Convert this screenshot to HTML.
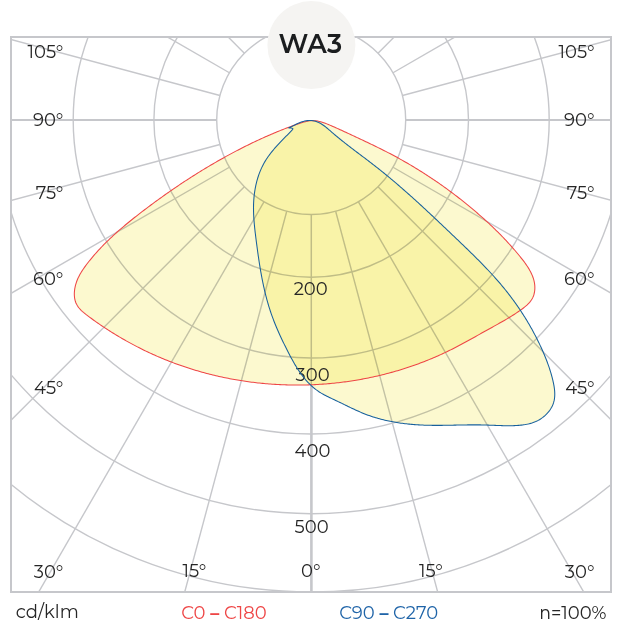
<!DOCTYPE html>
<html><head><meta charset="utf-8"><style>
html,body{margin:0;padding:0;background:#fff;}
svg{display:block;}
</style></head><body>
<svg width="624" height="623" viewBox="0 0 624 623">
<defs><clipPath id="fr"><rect x="11" y="37" width="600" height="555"/></clipPath></defs>
<rect x="0" y="0" width="624" height="623" fill="#fff"/>
<g clip-path="url(#fr)" fill="none" stroke="#c6c7cb" stroke-width="1.4">
<circle cx="311.2" cy="120.0" r="94.5"/>
<circle cx="311.2" cy="120.0" r="157.3"/>
<circle cx="311.2" cy="120.0" r="238.0"/>
<circle cx="311.2" cy="120.0" r="314.0"/>
<circle cx="311.2" cy="120.0" r="393.7"/>
<circle cx="311.2" cy="120.0" r="472.0"/>
<line x1="311.30" y1="214.50" x2="311.30" y2="385.5" stroke-width="1.5"/>
<line x1="311.40" y1="385.5" x2="311.40" y2="1020.00" stroke-width="2.6"/>
<line x1="286.74" y1="211.28" x2="78.26" y2="989.33"/>
<line x1="335.66" y1="211.28" x2="544.14" y2="989.33"/>
<line x1="263.95" y1="201.84" x2="-138.80" y2="899.42"/>
<line x1="358.45" y1="201.84" x2="761.20" y2="899.42"/>
<line x1="244.38" y1="186.82" x2="-325.20" y2="756.40"/>
<line x1="378.02" y1="186.82" x2="947.60" y2="756.40"/>
<line x1="229.36" y1="167.25" x2="-468.22" y2="570.00"/>
<line x1="393.04" y1="167.25" x2="1090.62" y2="570.00"/>
<line x1="219.92" y1="144.46" x2="-558.13" y2="352.94"/>
<line x1="402.48" y1="144.46" x2="1180.53" y2="352.94"/>
<line x1="216.70" y1="120.00" x2="-588.80" y2="120.00" stroke-width="2"/>
<line x1="405.70" y1="120.00" x2="1211.20" y2="120.00" stroke-width="2"/>
<line x1="219.92" y1="95.54" x2="-558.13" y2="-112.94"/>
<line x1="402.48" y1="95.54" x2="1180.53" y2="-112.94"/>
<line x1="229.36" y1="72.75" x2="-468.22" y2="-330.00"/>
<line x1="393.04" y1="72.75" x2="1090.62" y2="-330.00"/>
<line x1="244.38" y1="53.18" x2="-325.20" y2="-516.40"/>
<line x1="378.02" y1="53.18" x2="947.60" y2="-516.40"/>
<line x1="263.95" y1="38.16" x2="-138.80" y2="-659.42"/>
<line x1="358.45" y1="38.16" x2="761.20" y2="-659.42"/>
<line x1="286.74" y1="28.72" x2="78.26" y2="-749.33"/>
<line x1="335.66" y1="28.72" x2="544.14" y2="-749.33"/>
<line x1="311.20" y1="25.50" x2="311.20" y2="-780.00"/>
</g>
<rect x="11" y="37" width="600" height="555" fill="none" stroke="#c6c7cb" stroke-width="2"/>
<circle cx="311.4" cy="45.1" r="44" fill="#f5f4f2"/>
<text x="278.4" y="52.8" font-family="Montserrat, 'Liberation Sans', sans-serif" font-weight="600" font-size="27" fill="#1b1d1f" textLength="63.9" lengthAdjust="spacingAndGlyphs">WA3</text>
<g fill="#fcf9cf" stroke="none">
<path d="M311.40,120.65 L312.94,120.62 L314.48,120.69 L316.02,120.86 L317.57,121.10 L319.11,121.43 L320.66,121.81 L322.21,122.26 L323.75,122.76 L325.29,123.30 L326.82,123.88 L328.34,124.49 L329.85,125.12 L331.36,125.76 L332.85,126.41 L334.32,127.06 L335.79,127.71 L337.25,128.36 L338.70,129.02 L340.14,129.68 L341.57,130.34 L343.00,131.00 L344.43,131.66 L345.85,132.32 L347.28,132.98 L348.70,133.65 L350.12,134.31 L351.55,134.97 L352.97,135.64 L354.40,136.30 L355.82,136.97 L357.25,137.64 L358.68,138.30 L360.10,138.97 L361.53,139.64 L362.96,140.31 L364.38,140.99 L365.81,141.66 L367.24,142.34 L368.66,143.02 L370.09,143.70 L371.52,144.39 L372.94,145.07 L374.36,145.76 L375.79,146.46 L377.21,147.15 L378.63,147.85 L380.05,148.55 L381.46,149.26 L382.88,149.97 L384.30,150.69 L385.71,151.40 L387.12,152.13 L388.53,152.85 L389.94,153.58 L391.34,154.32 L392.74,155.06 L394.14,155.81 L395.54,156.56 L396.94,157.31 L398.33,158.08 L399.72,158.84 L401.10,159.61 L402.49,160.39 L403.87,161.17 L405.25,161.96 L406.63,162.75 L408.00,163.55 L409.37,164.35 L410.74,165.16 L412.11,165.97 L413.47,166.78 L414.83,167.60 L416.19,168.43 L417.54,169.26 L418.89,170.10 L420.24,170.94 L421.59,171.78 L422.93,172.63 L424.27,173.49 L425.60,174.34 L426.94,175.21 L428.27,176.08 L429.59,176.95 L430.92,177.83 L432.24,178.71 L433.56,179.59 L434.87,180.49 L436.18,181.38 L437.49,182.28 L438.80,183.18 L440.10,184.09 L441.40,185.00 L442.69,185.92 L443.98,186.84 L445.27,187.77 L446.55,188.70 L447.84,189.63 L449.11,190.57 L450.39,191.51 L451.66,192.46 L452.93,193.41 L454.19,194.36 L455.45,195.32 L456.71,196.29 L457.96,197.25 L459.21,198.22 L460.45,199.20 L461.70,200.18 L462.93,201.16 L464.17,202.15 L465.40,203.14 L466.63,204.13 L467.85,205.13 L469.07,206.13 L470.28,207.14 L471.50,208.15 L472.70,209.16 L473.91,210.17 L475.11,211.20 L476.30,212.22 L477.49,213.25 L478.68,214.28 L479.87,215.31 L481.05,216.35 L482.22,217.39 L483.39,218.44 L484.56,219.49 L485.72,220.55 L486.88,221.60 L488.04,222.67 L489.19,223.74 L490.34,224.81 L491.48,225.89 L492.62,226.98 L493.76,228.07 L494.89,229.16 L496.02,230.26 L497.14,231.37 L498.26,232.48 L499.37,233.60 L500.49,234.73 L501.59,235.86 L502.70,237.00 L503.80,238.15 L504.89,239.30 L505.99,240.46 L507.07,241.63 L508.16,242.80 L509.24,243.99 L510.32,245.18 L511.39,246.38 L512.46,247.58 L513.52,248.80 L514.58,250.02 L515.64,251.25 L516.69,252.50 L517.74,253.75 L518.79,255.00 L519.83,256.27 L520.86,257.55 L521.89,258.84 L522.90,260.13 L523.89,261.44 L524.87,262.76 L525.81,264.08 L526.74,265.42 L527.63,266.77 L528.48,268.13 L529.30,269.50 L530.07,270.88 L530.80,272.27 L531.49,273.68 L532.12,275.09 L532.69,276.52 L533.20,277.96 L533.66,279.42 L534.04,280.88 L534.36,282.36 L534.60,283.85 L534.77,285.35 L534.85,286.87 L534.86,288.40 L534.77,289.94 L534.59,291.47 L534.32,293.00 L533.95,294.50 L533.47,295.96 L532.88,297.38 L532.17,298.75 L531.36,300.07 L530.44,301.33 L529.44,302.54 L528.36,303.70 L527.21,304.83 L526.00,305.91 L524.75,306.96 L523.46,307.97 L522.15,308.96 L520.83,309.92 L519.50,310.87 L518.17,311.79 L516.84,312.69 L515.51,313.58 L514.17,314.45 L512.83,315.30 L511.49,316.14 L510.15,316.97 L508.80,317.79 L507.45,318.60 L506.09,319.41 L504.73,320.20 L503.36,320.99 L501.99,321.78 L500.61,322.56 L499.24,323.33 L497.86,324.10 L496.48,324.87 L495.09,325.64 L493.71,326.41 L492.33,327.17 L490.94,327.94 L489.56,328.70 L488.17,329.47 L486.79,330.24 L485.41,331.01 L484.02,331.78 L482.64,332.56 L481.26,333.33 L479.88,334.11 L478.50,334.88 L477.12,335.65 L475.74,336.43 L474.36,337.20 L472.98,337.97 L471.60,338.74 L470.21,339.51 L468.83,340.27 L467.44,341.04 L466.05,341.80 L464.67,342.55 L463.27,343.31 L461.88,344.06 L460.49,344.80 L459.09,345.54 L457.69,346.28 L456.29,347.01 L454.88,347.74 L453.48,348.45 L452.07,349.17 L450.65,349.87 L449.24,350.58 L447.81,351.27 L446.39,351.95 L444.96,352.63 L443.53,353.31 L442.10,353.97 L440.66,354.63 L439.22,355.28 L437.77,355.92 L436.32,356.56 L434.87,357.19 L433.42,357.81 L431.96,358.43 L430.50,359.03 L429.04,359.64 L427.57,360.23 L426.10,360.82 L424.63,361.40 L423.15,361.97 L421.67,362.54 L420.19,363.10 L418.71,363.65 L417.22,364.19 L415.73,364.73 L414.24,365.26 L412.75,365.79 L411.25,366.30 L409.75,366.81 L408.25,367.32 L406.74,367.81 L405.24,368.30 L403.73,368.78 L402.21,369.26 L400.70,369.72 L399.18,370.18 L397.66,370.64 L396.14,371.08 L394.62,371.52 L393.09,371.96 L391.57,372.38 L390.04,372.80 L388.50,373.21 L386.97,373.61 L385.43,374.01 L383.90,374.40 L382.36,374.78 L380.82,375.16 L379.27,375.53 L377.73,375.89 L376.18,376.25 L374.63,376.59 L373.08,376.94 L371.53,377.27 L369.98,377.60 L368.42,377.92 L366.87,378.23 L365.31,378.53 L363.75,378.83 L362.19,379.13 L360.63,379.41 L359.06,379.69 L357.50,379.96 L355.93,380.22 L354.37,380.48 L352.80,380.73 L351.23,380.97 L349.66,381.21 L348.09,381.44 L346.51,381.66 L344.94,381.87 L343.37,382.08 L341.79,382.28 L340.21,382.47 L338.64,382.66 L337.06,382.84 L335.48,383.01 L333.90,383.18 L332.32,383.34 L330.74,383.49 L329.16,383.63 L327.58,383.77 L326.00,383.90 L324.41,384.02 L322.83,384.14 L321.25,384.25 L319.66,384.35 L318.08,384.45 L316.49,384.53 L314.91,384.62 L313.32,384.69 L311.74,384.76 L310.15,384.82 L308.57,384.87 L306.98,384.92 L305.39,384.96 L303.81,384.99 L302.22,385.02 L300.64,385.03 L299.05,385.05 L297.46,385.05 L295.88,385.05 L294.29,385.04 L292.71,385.02 L291.12,385.00 L289.54,384.97 L287.95,384.93 L286.37,384.89 L284.78,384.84 L283.20,384.78 L281.62,384.71 L280.03,384.64 L278.45,384.56 L276.87,384.47 L275.29,384.38 L273.71,384.28 L272.12,384.17 L270.54,384.06 L268.96,383.94 L267.39,383.81 L265.81,383.68 L264.23,383.53 L262.65,383.38 L261.08,383.23 L259.50,383.07 L257.93,382.90 L256.36,382.72 L254.78,382.54 L253.21,382.34 L251.64,382.15 L250.07,381.94 L248.50,381.73 L246.93,381.51 L245.37,381.29 L243.80,381.05 L242.24,380.81 L240.68,380.57 L239.11,380.32 L237.55,380.06 L235.99,379.79 L234.44,379.51 L232.88,379.23 L231.32,378.94 L229.77,378.65 L228.22,378.35 L226.67,378.04 L225.12,377.72 L223.57,377.40 L222.02,377.07 L220.48,376.73 L218.93,376.39 L217.39,376.04 L215.85,375.68 L214.31,375.32 L212.78,374.95 L211.24,374.57 L209.71,374.19 L208.18,373.79 L206.65,373.39 L205.12,372.99 L203.60,372.58 L202.07,372.16 L200.55,371.73 L199.03,371.30 L197.51,370.86 L196.00,370.41 L194.48,369.95 L192.97,369.49 L191.46,369.03 L189.96,368.55 L188.45,368.07 L186.95,367.58 L185.45,367.08 L183.95,366.58 L182.46,366.07 L180.96,365.56 L179.47,365.03 L177.98,364.50 L176.50,363.96 L175.01,363.42 L173.53,362.87 L172.05,362.31 L170.58,361.75 L169.11,361.18 L167.64,360.60 L166.17,360.01 L164.70,359.42 L163.24,358.82 L161.78,358.21 L160.32,357.60 L158.87,356.98 L157.42,356.36 L155.97,355.72 L154.52,355.08 L153.08,354.43 L151.64,353.78 L150.20,353.12 L148.76,352.45 L147.33,351.78 L145.90,351.10 L144.47,350.41 L143.05,349.71 L141.63,349.01 L140.21,348.30 L138.79,347.59 L137.38,346.87 L135.97,346.14 L134.56,345.40 L133.16,344.66 L131.76,343.91 L130.36,343.15 L128.96,342.39 L127.57,341.62 L126.18,340.85 L124.79,340.06 L123.41,339.27 L122.03,338.48 L120.65,337.67 L119.27,336.86 L117.90,336.05 L116.53,335.22 L115.17,334.39 L113.80,333.56 L112.44,332.71 L111.09,331.86 L109.73,331.00 L108.38,330.14 L107.03,329.27 L105.69,328.39 L104.35,327.51 L103.01,326.62 L101.67,325.72 L100.34,324.82 L99.01,323.91 L97.69,322.99 L96.37,322.07 L95.05,321.13 L93.73,320.20 L92.42,319.25 L91.11,318.30 L89.80,317.35 L88.50,316.38 L87.20,315.41 L85.92,314.43 L84.66,313.42 L83.44,312.40 L82.26,311.35 L81.13,310.28 L80.06,309.16 L79.06,308.01 L78.14,306.82 L77.31,305.58 L76.57,304.29 L75.95,302.94 L75.43,301.54 L75.01,300.09 L74.70,298.59 L74.48,297.06 L74.36,295.51 L74.32,293.93 L74.37,292.33 L74.51,290.73 L74.71,289.13 L74.99,287.53 L75.34,285.94 L75.75,284.36 L76.23,282.82 L76.76,281.30 L77.34,279.81 L77.97,278.34 L78.65,276.90 L79.37,275.48 L80.14,274.09 L80.94,272.71 L81.77,271.35 L82.64,270.01 L83.53,268.69 L84.44,267.39 L85.38,266.09 L86.33,264.81 L87.30,263.54 L88.27,262.29 L89.26,261.04 L90.26,259.80 L91.27,258.57 L92.28,257.35 L93.31,256.13 L94.34,254.93 L95.38,253.74 L96.43,252.55 L97.49,251.37 L98.56,250.20 L99.64,249.04 L100.72,247.89 L101.81,246.74 L102.91,245.61 L104.02,244.48 L105.13,243.36 L106.25,242.24 L107.38,241.13 L108.52,240.03 L109.66,238.94 L110.81,237.85 L111.96,236.77 L113.12,235.69 L114.29,234.63 L115.46,233.56 L116.64,232.51 L117.82,231.46 L119.01,230.41 L120.21,229.37 L121.41,228.34 L122.61,227.31 L123.82,226.29 L125.03,225.27 L126.25,224.26 L127.47,223.25 L128.70,222.24 L129.92,221.24 L131.16,220.25 L132.39,219.26 L133.63,218.27 L134.88,217.28 L136.12,216.30 L137.37,215.33 L138.62,214.35 L139.88,213.38 L141.13,212.42 L142.39,211.45 L143.65,210.49 L144.92,209.53 L146.18,208.57 L147.45,207.62 L148.72,206.67 L149.99,205.72 L151.26,204.77 L152.53,203.83 L153.81,202.89 L155.08,201.95 L156.36,201.02 L157.64,200.09 L158.93,199.16 L160.21,198.23 L161.50,197.31 L162.79,196.39 L164.08,195.47 L165.37,194.55 L166.67,193.64 L167.96,192.73 L169.26,191.82 L170.56,190.92 L171.87,190.02 L173.17,189.12 L174.48,188.23 L175.78,187.34 L177.10,186.45 L178.41,185.56 L179.72,184.68 L181.04,183.80 L182.36,182.93 L183.68,182.05 L185.00,181.18 L186.32,180.32 L187.65,179.45 L188.98,178.59 L190.31,177.74 L191.64,176.88 L192.98,176.03 L194.32,175.19 L195.65,174.34 L197.00,173.50 L198.34,172.66 L199.68,171.83 L201.03,171.00 L202.38,170.17 L203.73,169.35 L205.09,168.53 L206.44,167.71 L207.80,166.90 L209.16,166.09 L210.52,165.28 L211.89,164.48 L213.26,163.68 L214.63,162.89 L216.00,162.10 L217.37,161.31 L218.75,160.52 L220.12,159.74 L221.50,158.97 L222.89,158.19 L224.27,157.42 L225.66,156.66 L227.05,155.89 L228.44,155.14 L229.83,154.38 L231.23,153.63 L232.63,152.88 L234.03,152.14 L235.43,151.40 L236.83,150.66 L238.24,149.93 L239.65,149.21 L241.06,148.48 L242.48,147.76 L243.89,147.05 L245.31,146.33 L246.74,145.63 L248.16,144.92 L249.59,144.22 L251.01,143.53 L252.44,142.84 L253.88,142.15 L255.31,141.47 L256.75,140.79 L258.19,140.11 L259.63,139.44 L261.08,138.78 L262.52,138.12 L263.97,137.47 L265.42,136.82 L266.88,136.17 L268.33,135.53 L269.79,134.90 L271.25,134.27 L272.71,133.65 L274.17,133.03 L275.64,132.42 L277.11,131.82 L278.58,131.22 L280.05,130.62 L281.52,130.04 L282.99,129.46 L284.47,128.88 L285.95,128.32 L287.43,127.75 L288.91,127.20 L290.40,126.65 L291.88,126.11 L293.37,125.58 L294.86,125.05 L296.35,124.53 L297.84,124.02 L299.34,123.52 L300.83,123.02 L302.33,122.54 L303.83,122.08 L305.34,121.66 L306.85,121.29 L308.36,120.99 L309.88,120.77Z" style="mix-blend-mode:multiply"/>
<path d="M311.67,120.51 L313.00,120.67 L314.30,120.91 L315.57,121.24 L316.80,121.65 L318.01,122.14 L319.19,122.69 L320.35,123.31 L321.48,123.99 L322.60,124.71 L323.70,125.48 L324.79,126.29 L325.87,127.14 L326.93,128.01 L327.99,128.89 L329.04,129.80 L330.09,130.71 L331.14,131.63 L332.19,132.54 L333.25,133.45 L334.30,134.34 L335.36,135.24 L336.42,136.13 L337.49,137.01 L338.56,137.89 L339.63,138.76 L340.70,139.62 L341.77,140.49 L342.85,141.35 L343.92,142.20 L345.00,143.05 L346.08,143.90 L347.16,144.74 L348.25,145.58 L349.33,146.42 L350.41,147.25 L351.50,148.08 L352.59,148.91 L353.67,149.74 L354.76,150.56 L355.85,151.39 L356.93,152.21 L358.02,153.03 L359.11,153.85 L360.20,154.67 L361.29,155.49 L362.37,156.31 L363.46,157.13 L364.55,157.95 L365.63,158.77 L366.72,159.59 L367.80,160.41 L368.88,161.24 L369.96,162.06 L371.04,162.89 L372.12,163.72 L373.20,164.55 L374.27,165.38 L375.34,166.22 L376.41,167.06 L377.48,167.90 L378.55,168.74 L379.61,169.59 L380.68,170.44 L381.74,171.29 L382.80,172.14 L383.86,173.00 L384.91,173.86 L385.97,174.72 L387.02,175.59 L388.07,176.45 L389.12,177.32 L390.16,178.20 L391.21,179.07 L392.25,179.95 L393.30,180.83 L394.34,181.71 L395.38,182.59 L396.41,183.47 L397.45,184.36 L398.48,185.25 L399.52,186.14 L400.55,187.03 L401.58,187.93 L402.61,188.83 L403.64,189.73 L404.66,190.63 L405.69,191.53 L406.71,192.43 L407.73,193.34 L408.75,194.25 L409.77,195.16 L410.79,196.07 L411.81,196.98 L412.83,197.89 L413.84,198.81 L414.85,199.73 L415.87,200.64 L416.88,201.56 L417.89,202.48 L418.90,203.41 L419.91,204.33 L420.92,205.25 L421.92,206.18 L422.93,207.11 L423.94,208.04 L424.94,208.96 L425.94,209.89 L426.95,210.83 L427.95,211.76 L428.95,212.69 L429.95,213.63 L430.95,214.56 L431.95,215.50 L432.95,216.43 L433.94,217.37 L434.94,218.31 L435.94,219.25 L436.93,220.18 L437.93,221.12 L438.92,222.06 L439.92,223.01 L440.91,223.95 L441.90,224.89 L442.90,225.83 L443.89,226.77 L444.88,227.72 L445.87,228.66 L446.86,229.60 L447.85,230.54 L448.84,231.49 L449.83,232.43 L450.82,233.38 L451.81,234.32 L452.80,235.26 L453.79,236.21 L454.78,237.15 L455.77,238.10 L456.76,239.04 L457.75,239.98 L458.74,240.93 L459.72,241.87 L460.71,242.82 L461.70,243.76 L462.68,244.71 L463.67,245.65 L464.65,246.60 L465.64,247.55 L466.62,248.50 L467.60,249.45 L468.58,250.40 L469.56,251.35 L470.53,252.30 L471.51,253.26 L472.48,254.21 L473.45,255.17 L474.42,256.13 L475.39,257.09 L476.36,258.05 L477.32,259.01 L478.28,259.98 L479.24,260.95 L480.20,261.92 L481.15,262.89 L482.11,263.86 L483.06,264.84 L484.00,265.82 L484.95,266.80 L485.89,267.78 L486.83,268.77 L487.76,269.76 L488.70,270.75 L489.63,271.75 L490.55,272.75 L491.48,273.75 L492.39,274.75 L493.31,275.76 L494.22,276.77 L495.13,277.79 L496.03,278.81 L496.94,279.83 L497.83,280.85 L498.72,281.88 L499.61,282.92 L500.50,283.96 L501.38,285.00 L502.25,286.04 L503.12,287.09 L503.99,288.15 L504.85,289.21 L505.71,290.27 L506.56,291.34 L507.41,292.41 L508.25,293.49 L509.09,294.57 L509.92,295.66 L510.74,296.75 L511.57,297.84 L512.38,298.94 L513.19,300.05 L514.00,301.15 L514.80,302.27 L515.60,303.38 L516.39,304.50 L517.17,305.62 L517.95,306.75 L518.73,307.88 L519.50,309.02 L520.26,310.16 L521.02,311.30 L521.77,312.45 L522.51,313.60 L523.25,314.75 L523.99,315.91 L524.72,317.07 L525.44,318.23 L526.16,319.40 L526.87,320.57 L527.57,321.75 L528.27,322.92 L528.96,324.10 L529.65,325.29 L530.33,326.48 L531.01,327.67 L531.68,328.86 L532.34,330.05 L532.99,331.25 L533.64,332.46 L534.29,333.66 L534.92,334.87 L535.55,336.08 L536.18,337.29 L536.79,338.51 L537.40,339.72 L538.01,340.94 L538.61,342.17 L539.20,343.39 L539.78,344.62 L540.36,345.85 L540.93,347.08 L541.49,348.32 L542.05,349.56 L542.60,350.79 L543.14,352.04 L543.67,353.28 L544.20,354.53 L544.72,355.77 L545.24,357.02 L545.74,358.28 L546.24,359.53 L546.73,360.79 L547.21,362.06 L547.68,363.33 L548.14,364.60 L548.60,365.88 L549.04,367.16 L549.47,368.45 L549.89,369.75 L550.31,371.05 L550.71,372.37 L551.10,373.69 L551.47,375.01 L551.84,376.35 L552.19,377.69 L552.54,379.05 L552.87,380.41 L553.18,381.78 L553.48,383.16 L553.75,384.55 L554.00,385.94 L554.22,387.33 L554.41,388.72 L554.57,390.11 L554.68,391.49 L554.75,392.87 L554.77,394.24 L554.74,395.61 L554.66,396.96 L554.52,398.30 L554.32,399.62 L554.05,400.93 L553.71,402.21 L553.31,403.48 L552.83,404.73 L552.29,405.95 L551.69,407.15 L551.03,408.32 L550.31,409.46 L549.54,410.57 L548.71,411.65 L547.84,412.70 L546.92,413.71 L545.95,414.68 L544.95,415.62 L543.90,416.52 L542.82,417.37 L541.71,418.19 L540.57,418.95 L539.40,419.68 L538.20,420.35 L536.98,420.97 L535.74,421.55 L534.48,422.07 L533.20,422.55 L531.91,422.98 L530.60,423.38 L529.28,423.73 L527.95,424.04 L526.61,424.32 L525.25,424.57 L523.89,424.78 L522.53,424.97 L521.16,425.13 L519.78,425.27 L518.41,425.38 L517.03,425.48 L515.65,425.56 L514.27,425.62 L512.90,425.67 L511.53,425.70 L510.15,425.72 L508.78,425.73 L507.41,425.73 L506.04,425.72 L504.68,425.70 L503.31,425.67 L501.94,425.64 L500.58,425.60 L499.21,425.55 L497.85,425.50 L496.49,425.45 L495.12,425.39 L493.76,425.34 L492.40,425.28 L491.04,425.22 L489.68,425.17 L488.31,425.11 L486.95,425.06 L485.59,425.02 L484.23,424.98 L482.87,424.94 L481.51,424.91 L480.15,424.89 L478.79,424.87 L477.43,424.86 L476.06,424.85 L474.70,424.85 L473.34,424.85 L471.98,424.86 L470.62,424.87 L469.26,424.88 L467.89,424.89 L466.53,424.91 L465.17,424.93 L463.81,424.95 L462.45,424.98 L461.08,425.00 L459.72,425.03 L458.36,425.06 L456.99,425.09 L455.63,425.12 L454.27,425.14 L452.90,425.17 L451.54,425.20 L450.17,425.23 L448.81,425.25 L447.44,425.28 L446.08,425.30 L444.71,425.32 L443.35,425.34 L441.98,425.35 L440.62,425.36 L439.25,425.37 L437.88,425.37 L436.52,425.38 L435.15,425.37 L433.78,425.36 L432.41,425.35 L431.05,425.33 L429.68,425.31 L428.31,425.28 L426.94,425.24 L425.57,425.20 L424.20,425.15 L422.83,425.10 L421.46,425.04 L420.09,424.97 L418.72,424.89 L417.35,424.81 L415.98,424.71 L414.61,424.61 L413.24,424.51 L411.87,424.39 L410.51,424.27 L409.14,424.14 L407.78,424.00 L406.41,423.85 L405.05,423.69 L403.69,423.52 L402.33,423.35 L400.97,423.16 L399.61,422.97 L398.26,422.76 L396.91,422.55 L395.56,422.33 L394.21,422.10 L392.87,421.85 L391.53,421.60 L390.19,421.34 L388.85,421.06 L387.52,420.78 L386.19,420.48 L384.86,420.18 L383.53,419.86 L382.21,419.53 L380.90,419.20 L379.58,418.85 L378.28,418.48 L376.97,418.11 L375.67,417.72 L374.37,417.33 L373.08,416.92 L371.79,416.50 L370.51,416.06 L369.23,415.61 L367.96,415.16 L366.69,414.68 L365.43,414.20 L364.17,413.70 L362.91,413.19 L361.66,412.67 L360.42,412.14 L359.17,411.60 L357.93,411.05 L356.69,410.49 L355.46,409.92 L354.23,409.35 L352.99,408.77 L351.76,408.19 L350.53,407.60 L349.30,407.01 L348.07,406.41 L346.83,405.81 L345.60,405.21 L344.37,404.60 L343.13,404.00 L341.89,403.40 L340.65,402.80 L339.40,402.19 L338.16,401.60 L336.90,401.00 L335.65,400.41 L334.39,399.82 L333.13,399.23 L331.87,398.64 L330.61,398.04 L329.35,397.44 L328.11,396.83 L326.87,396.21 L325.64,395.58 L324.42,394.94 L323.22,394.28 L322.03,393.60 L320.86,392.91 L319.70,392.19 L318.57,391.45 L317.46,390.68 L316.37,389.89 L315.31,389.07 L314.26,388.24 L313.23,387.38 L312.22,386.50 L311.24,385.60 L310.26,384.68 L309.31,383.74 L308.38,382.78 L307.46,381.80 L306.56,380.80 L305.67,379.79 L304.81,378.76 L303.95,377.72 L303.11,376.66 L302.29,375.58 L301.48,374.49 L300.68,373.39 L299.90,372.28 L299.13,371.15 L298.37,370.01 L297.62,368.87 L296.88,367.71 L296.16,366.54 L295.44,365.36 L294.73,364.18 L294.04,362.99 L293.35,361.79 L292.67,360.58 L292.00,359.37 L291.34,358.16 L290.68,356.94 L290.03,355.71 L289.39,354.48 L288.75,353.25 L288.11,352.02 L287.49,350.79 L286.86,349.55 L286.24,348.32 L285.63,347.09 L285.01,345.85 L284.41,344.62 L283.80,343.38 L283.20,342.15 L282.61,340.91 L282.02,339.67 L281.44,338.43 L280.86,337.19 L280.28,335.95 L279.72,334.71 L279.16,333.47 L278.60,332.23 L278.05,330.98 L277.51,329.73 L276.97,328.48 L276.44,327.23 L275.92,325.98 L275.40,324.73 L274.89,323.47 L274.39,322.21 L273.89,320.95 L273.41,319.68 L272.93,318.41 L272.46,317.14 L271.99,315.87 L271.54,314.59 L271.09,313.31 L270.65,312.03 L270.23,310.75 L269.81,309.46 L269.39,308.16 L268.99,306.87 L268.59,305.57 L268.21,304.27 L267.82,302.97 L267.45,301.66 L267.09,300.35 L266.73,299.04 L266.38,297.72 L266.03,296.41 L265.70,295.09 L265.37,293.76 L265.04,292.44 L264.73,291.11 L264.42,289.79 L264.11,288.45 L263.81,287.12 L263.52,285.79 L263.23,284.45 L262.95,283.11 L262.68,281.77 L262.41,280.43 L262.14,279.09 L261.88,277.74 L261.63,276.40 L261.38,275.05 L261.13,273.70 L260.89,272.35 L260.65,271.00 L260.42,269.65 L260.19,268.29 L259.97,266.94 L259.75,265.58 L259.53,264.23 L259.32,262.87 L259.11,261.51 L258.90,260.15 L258.70,258.79 L258.50,257.43 L258.30,256.07 L258.10,254.71 L257.91,253.35 L257.72,251.99 L257.53,250.63 L257.35,249.27 L257.17,247.91 L256.98,246.55 L256.80,245.19 L256.63,243.83 L256.45,242.47 L256.27,241.11 L256.10,239.75 L255.92,238.39 L255.75,237.03 L255.58,235.67 L255.42,234.31 L255.25,232.95 L255.09,231.59 L254.94,230.24 L254.79,228.88 L254.64,227.52 L254.51,226.16 L254.37,224.81 L254.25,223.45 L254.13,222.09 L254.02,220.74 L253.92,219.38 L253.83,218.02 L253.75,216.66 L253.68,215.31 L253.62,213.95 L253.58,212.59 L253.54,211.23 L253.52,209.87 L253.51,208.51 L253.51,207.15 L253.53,205.79 L253.56,204.43 L253.61,203.07 L253.68,201.71 L253.76,200.34 L253.86,198.98 L253.97,197.62 L254.10,196.26 L254.25,194.90 L254.42,193.54 L254.61,192.18 L254.81,190.82 L255.03,189.47 L255.27,188.13 L255.53,186.78 L255.81,185.44 L256.11,184.11 L256.42,182.78 L256.76,181.45 L257.12,180.13 L257.50,178.82 L257.89,177.52 L258.31,176.22 L258.75,174.93 L259.21,173.65 L259.70,172.38 L260.20,171.11 L260.73,169.86 L261.27,168.61 L261.84,167.38 L262.44,166.16 L263.05,164.95 L263.69,163.75 L264.36,162.56 L265.04,161.39 L265.75,160.23 L266.48,159.08 L267.24,157.94 L268.01,156.82 L268.80,155.70 L269.62,154.60 L270.44,153.51 L271.29,152.43 L272.15,151.36 L273.02,150.30 L273.91,149.25 L274.80,148.21 L275.71,147.18 L276.63,146.15 L277.55,145.13 L278.49,144.13 L279.42,143.12 L280.37,142.13 L281.32,141.14 L282.27,140.16 L283.22,139.17 L284.18,138.20 L285.14,137.22 L286.09,136.24 L287.05,135.27 L288.01,134.29 L288.96,133.31 L289.91,132.33 L290.86,131.35 L291.80,130.36 L292.72,129.37 L292.81,128.52 L291.31,128.07 L289.42,128.05 L288.51,128.04 L289.45,127.54 L290.96,126.86 L292.35,126.20 L293.64,125.55 L294.85,124.93 L296.02,124.33 L297.16,123.76 L298.30,123.22 L299.48,122.71 L300.71,122.24 L302.00,121.80 L303.33,121.42 L304.70,121.09 L306.10,120.82 L307.51,120.62 L308.91,120.50 L310.30,120.46Z" style="mix-blend-mode:multiply"/>
</g>
<g font-family="Montserrat, 'Liberation Sans', sans-serif" font-size="18" fill="#262626">
<text x="63.40" y="58.30" text-anchor="end" textLength="35.89" lengthAdjust="spacingAndGlyphs">105°</text>
<text x="594.50" y="58.30" text-anchor="end" textLength="35.89" lengthAdjust="spacingAndGlyphs">105°</text>
<text x="63.40" y="125.70" text-anchor="end" textLength="30.47" lengthAdjust="spacingAndGlyphs">90°</text>
<text x="594.50" y="125.70" text-anchor="end" textLength="30.47" lengthAdjust="spacingAndGlyphs">90°</text>
<text x="63.40" y="199.40" text-anchor="end" textLength="27.73" lengthAdjust="spacingAndGlyphs">75°</text>
<text x="594.50" y="199.40" text-anchor="end" textLength="27.73" lengthAdjust="spacingAndGlyphs">75°</text>
<text x="63.40" y="285.40" text-anchor="end" textLength="30.47" lengthAdjust="spacingAndGlyphs">60°</text>
<text x="594.50" y="285.40" text-anchor="end" textLength="30.47" lengthAdjust="spacingAndGlyphs">60°</text>
<text x="63.40" y="393.50" text-anchor="end" textLength="29.33" lengthAdjust="spacingAndGlyphs">45°</text>
<text x="594.50" y="393.50" text-anchor="end" textLength="29.33" lengthAdjust="spacingAndGlyphs">45°</text>
<text x="63.40" y="577.70" text-anchor="end" textLength="29.66" lengthAdjust="spacingAndGlyphs">30°</text>
<text x="594.50" y="577.70" text-anchor="end" textLength="29.66" lengthAdjust="spacingAndGlyphs">30°</text>
<text x="182.40" y="577.20" text-anchor="start" textLength="23.97" lengthAdjust="spacingAndGlyphs">15°</text>
<text x="301.10" y="577.20" text-anchor="start" textLength="19.5" lengthAdjust="spacingAndGlyphs">0°</text>
<text x="418.90" y="577.20" text-anchor="start" textLength="23.97" lengthAdjust="spacingAndGlyphs">15°</text>
<text x="293.70" y="294.80" text-anchor="start" textLength="34.03" lengthAdjust="spacingAndGlyphs">200</text>
<text x="295.60" y="381.10" text-anchor="start" textLength="33.98" lengthAdjust="spacingAndGlyphs">300</text>
<text x="294.60" y="456.60" text-anchor="start" textLength="35.73" lengthAdjust="spacingAndGlyphs">400</text>
<text x="294.60" y="532.90" text-anchor="start" textLength="34.03" lengthAdjust="spacingAndGlyphs">500</text>
</g>
<path d="M311.40,120.65 L312.94,120.62 L314.48,120.69 L316.02,120.86 L317.57,121.10 L319.11,121.43 L320.66,121.81 L322.21,122.26 L323.75,122.76 L325.29,123.30 L326.82,123.88 L328.34,124.49 L329.85,125.12 L331.36,125.76 L332.85,126.41 L334.32,127.06 L335.79,127.71 L337.25,128.36 L338.70,129.02 L340.14,129.68 L341.57,130.34 L343.00,131.00 L344.43,131.66 L345.85,132.32 L347.28,132.98 L348.70,133.65 L350.12,134.31 L351.55,134.97 L352.97,135.64 L354.40,136.30 L355.82,136.97 L357.25,137.64 L358.68,138.30 L360.10,138.97 L361.53,139.64 L362.96,140.31 L364.38,140.99 L365.81,141.66 L367.24,142.34 L368.66,143.02 L370.09,143.70 L371.52,144.39 L372.94,145.07 L374.36,145.76 L375.79,146.46 L377.21,147.15 L378.63,147.85 L380.05,148.55 L381.46,149.26 L382.88,149.97 L384.30,150.69 L385.71,151.40 L387.12,152.13 L388.53,152.85 L389.94,153.58 L391.34,154.32 L392.74,155.06 L394.14,155.81 L395.54,156.56 L396.94,157.31 L398.33,158.08 L399.72,158.84 L401.10,159.61 L402.49,160.39 L403.87,161.17 L405.25,161.96 L406.63,162.75 L408.00,163.55 L409.37,164.35 L410.74,165.16 L412.11,165.97 L413.47,166.78 L414.83,167.60 L416.19,168.43 L417.54,169.26 L418.89,170.10 L420.24,170.94 L421.59,171.78 L422.93,172.63 L424.27,173.49 L425.60,174.34 L426.94,175.21 L428.27,176.08 L429.59,176.95 L430.92,177.83 L432.24,178.71 L433.56,179.59 L434.87,180.49 L436.18,181.38 L437.49,182.28 L438.80,183.18 L440.10,184.09 L441.40,185.00 L442.69,185.92 L443.98,186.84 L445.27,187.77 L446.55,188.70 L447.84,189.63 L449.11,190.57 L450.39,191.51 L451.66,192.46 L452.93,193.41 L454.19,194.36 L455.45,195.32 L456.71,196.29 L457.96,197.25 L459.21,198.22 L460.45,199.20 L461.70,200.18 L462.93,201.16 L464.17,202.15 L465.40,203.14 L466.63,204.13 L467.85,205.13 L469.07,206.13 L470.28,207.14 L471.50,208.15 L472.70,209.16 L473.91,210.17 L475.11,211.20 L476.30,212.22 L477.49,213.25 L478.68,214.28 L479.87,215.31 L481.05,216.35 L482.22,217.39 L483.39,218.44 L484.56,219.49 L485.72,220.55 L486.88,221.60 L488.04,222.67 L489.19,223.74 L490.34,224.81 L491.48,225.89 L492.62,226.98 L493.76,228.07 L494.89,229.16 L496.02,230.26 L497.14,231.37 L498.26,232.48 L499.37,233.60 L500.49,234.73 L501.59,235.86 L502.70,237.00 L503.80,238.15 L504.89,239.30 L505.99,240.46 L507.07,241.63 L508.16,242.80 L509.24,243.99 L510.32,245.18 L511.39,246.38 L512.46,247.58 L513.52,248.80 L514.58,250.02 L515.64,251.25 L516.69,252.50 L517.74,253.75 L518.79,255.00 L519.83,256.27 L520.86,257.55 L521.89,258.84 L522.90,260.13 L523.89,261.44 L524.87,262.76 L525.81,264.08 L526.74,265.42 L527.63,266.77 L528.48,268.13 L529.30,269.50 L530.07,270.88 L530.80,272.27 L531.49,273.68 L532.12,275.09 L532.69,276.52 L533.20,277.96 L533.66,279.42 L534.04,280.88 L534.36,282.36 L534.60,283.85 L534.77,285.35 L534.85,286.87 L534.86,288.40 L534.77,289.94 L534.59,291.47 L534.32,293.00 L533.95,294.50 L533.47,295.96 L532.88,297.38 L532.17,298.75 L531.36,300.07 L530.44,301.33 L529.44,302.54 L528.36,303.70 L527.21,304.83 L526.00,305.91 L524.75,306.96 L523.46,307.97 L522.15,308.96 L520.83,309.92 L519.50,310.87 L518.17,311.79 L516.84,312.69 L515.51,313.58 L514.17,314.45 L512.83,315.30 L511.49,316.14 L510.15,316.97 L508.80,317.79 L507.45,318.60 L506.09,319.41 L504.73,320.20 L503.36,320.99 L501.99,321.78 L500.61,322.56 L499.24,323.33 L497.86,324.10 L496.48,324.87 L495.09,325.64 L493.71,326.41 L492.33,327.17 L490.94,327.94 L489.56,328.70 L488.17,329.47 L486.79,330.24 L485.41,331.01 L484.02,331.78 L482.64,332.56 L481.26,333.33 L479.88,334.11 L478.50,334.88 L477.12,335.65 L475.74,336.43 L474.36,337.20 L472.98,337.97 L471.60,338.74 L470.21,339.51 L468.83,340.27 L467.44,341.04 L466.05,341.80 L464.67,342.55 L463.27,343.31 L461.88,344.06 L460.49,344.80 L459.09,345.54 L457.69,346.28 L456.29,347.01 L454.88,347.74 L453.48,348.45 L452.07,349.17 L450.65,349.87 L449.24,350.58 L447.81,351.27 L446.39,351.95 L444.96,352.63 L443.53,353.31 L442.10,353.97 L440.66,354.63 L439.22,355.28 L437.77,355.92 L436.32,356.56 L434.87,357.19 L433.42,357.81 L431.96,358.43 L430.50,359.03 L429.04,359.64 L427.57,360.23 L426.10,360.82 L424.63,361.40 L423.15,361.97 L421.67,362.54 L420.19,363.10 L418.71,363.65 L417.22,364.19 L415.73,364.73 L414.24,365.26 L412.75,365.79 L411.25,366.30 L409.75,366.81 L408.25,367.32 L406.74,367.81 L405.24,368.30 L403.73,368.78 L402.21,369.26 L400.70,369.72 L399.18,370.18 L397.66,370.64 L396.14,371.08 L394.62,371.52 L393.09,371.96 L391.57,372.38 L390.04,372.80 L388.50,373.21 L386.97,373.61 L385.43,374.01 L383.90,374.40 L382.36,374.78 L380.82,375.16 L379.27,375.53 L377.73,375.89 L376.18,376.25 L374.63,376.59 L373.08,376.94 L371.53,377.27 L369.98,377.60 L368.42,377.92 L366.87,378.23 L365.31,378.53 L363.75,378.83 L362.19,379.13 L360.63,379.41 L359.06,379.69 L357.50,379.96 L355.93,380.22 L354.37,380.48 L352.80,380.73 L351.23,380.97 L349.66,381.21 L348.09,381.44 L346.51,381.66 L344.94,381.87 L343.37,382.08 L341.79,382.28 L340.21,382.47 L338.64,382.66 L337.06,382.84 L335.48,383.01 L333.90,383.18 L332.32,383.34 L330.74,383.49 L329.16,383.63 L327.58,383.77 L326.00,383.90 L324.41,384.02 L322.83,384.14 L321.25,384.25 L319.66,384.35 L318.08,384.45 L316.49,384.53 L314.91,384.62 L313.32,384.69 L311.74,384.76 L310.15,384.82 L308.57,384.87 L306.98,384.92 L305.39,384.96 L303.81,384.99 L302.22,385.02 L300.64,385.03 L299.05,385.05 L297.46,385.05 L295.88,385.05 L294.29,385.04 L292.71,385.02 L291.12,385.00 L289.54,384.97 L287.95,384.93 L286.37,384.89 L284.78,384.84 L283.20,384.78 L281.62,384.71 L280.03,384.64 L278.45,384.56 L276.87,384.47 L275.29,384.38 L273.71,384.28 L272.12,384.17 L270.54,384.06 L268.96,383.94 L267.39,383.81 L265.81,383.68 L264.23,383.53 L262.65,383.38 L261.08,383.23 L259.50,383.07 L257.93,382.90 L256.36,382.72 L254.78,382.54 L253.21,382.34 L251.64,382.15 L250.07,381.94 L248.50,381.73 L246.93,381.51 L245.37,381.29 L243.80,381.05 L242.24,380.81 L240.68,380.57 L239.11,380.32 L237.55,380.06 L235.99,379.79 L234.44,379.51 L232.88,379.23 L231.32,378.94 L229.77,378.65 L228.22,378.35 L226.67,378.04 L225.12,377.72 L223.57,377.40 L222.02,377.07 L220.48,376.73 L218.93,376.39 L217.39,376.04 L215.85,375.68 L214.31,375.32 L212.78,374.95 L211.24,374.57 L209.71,374.19 L208.18,373.79 L206.65,373.39 L205.12,372.99 L203.60,372.58 L202.07,372.16 L200.55,371.73 L199.03,371.30 L197.51,370.86 L196.00,370.41 L194.48,369.95 L192.97,369.49 L191.46,369.03 L189.96,368.55 L188.45,368.07 L186.95,367.58 L185.45,367.08 L183.95,366.58 L182.46,366.07 L180.96,365.56 L179.47,365.03 L177.98,364.50 L176.50,363.96 L175.01,363.42 L173.53,362.87 L172.05,362.31 L170.58,361.75 L169.11,361.18 L167.64,360.60 L166.17,360.01 L164.70,359.42 L163.24,358.82 L161.78,358.21 L160.32,357.60 L158.87,356.98 L157.42,356.36 L155.97,355.72 L154.52,355.08 L153.08,354.43 L151.64,353.78 L150.20,353.12 L148.76,352.45 L147.33,351.78 L145.90,351.10 L144.47,350.41 L143.05,349.71 L141.63,349.01 L140.21,348.30 L138.79,347.59 L137.38,346.87 L135.97,346.14 L134.56,345.40 L133.16,344.66 L131.76,343.91 L130.36,343.15 L128.96,342.39 L127.57,341.62 L126.18,340.85 L124.79,340.06 L123.41,339.27 L122.03,338.48 L120.65,337.67 L119.27,336.86 L117.90,336.05 L116.53,335.22 L115.17,334.39 L113.80,333.56 L112.44,332.71 L111.09,331.86 L109.73,331.00 L108.38,330.14 L107.03,329.27 L105.69,328.39 L104.35,327.51 L103.01,326.62 L101.67,325.72 L100.34,324.82 L99.01,323.91 L97.69,322.99 L96.37,322.07 L95.05,321.13 L93.73,320.20 L92.42,319.25 L91.11,318.30 L89.80,317.35 L88.50,316.38 L87.20,315.41 L85.92,314.43 L84.66,313.42 L83.44,312.40 L82.26,311.35 L81.13,310.28 L80.06,309.16 L79.06,308.01 L78.14,306.82 L77.31,305.58 L76.57,304.29 L75.95,302.94 L75.43,301.54 L75.01,300.09 L74.70,298.59 L74.48,297.06 L74.36,295.51 L74.32,293.93 L74.37,292.33 L74.51,290.73 L74.71,289.13 L74.99,287.53 L75.34,285.94 L75.75,284.36 L76.23,282.82 L76.76,281.30 L77.34,279.81 L77.97,278.34 L78.65,276.90 L79.37,275.48 L80.14,274.09 L80.94,272.71 L81.77,271.35 L82.64,270.01 L83.53,268.69 L84.44,267.39 L85.38,266.09 L86.33,264.81 L87.30,263.54 L88.27,262.29 L89.26,261.04 L90.26,259.80 L91.27,258.57 L92.28,257.35 L93.31,256.13 L94.34,254.93 L95.38,253.74 L96.43,252.55 L97.49,251.37 L98.56,250.20 L99.64,249.04 L100.72,247.89 L101.81,246.74 L102.91,245.61 L104.02,244.48 L105.13,243.36 L106.25,242.24 L107.38,241.13 L108.52,240.03 L109.66,238.94 L110.81,237.85 L111.96,236.77 L113.12,235.69 L114.29,234.63 L115.46,233.56 L116.64,232.51 L117.82,231.46 L119.01,230.41 L120.21,229.37 L121.41,228.34 L122.61,227.31 L123.82,226.29 L125.03,225.27 L126.25,224.26 L127.47,223.25 L128.70,222.24 L129.92,221.24 L131.16,220.25 L132.39,219.26 L133.63,218.27 L134.88,217.28 L136.12,216.30 L137.37,215.33 L138.62,214.35 L139.88,213.38 L141.13,212.42 L142.39,211.45 L143.65,210.49 L144.92,209.53 L146.18,208.57 L147.45,207.62 L148.72,206.67 L149.99,205.72 L151.26,204.77 L152.53,203.83 L153.81,202.89 L155.08,201.95 L156.36,201.02 L157.64,200.09 L158.93,199.16 L160.21,198.23 L161.50,197.31 L162.79,196.39 L164.08,195.47 L165.37,194.55 L166.67,193.64 L167.96,192.73 L169.26,191.82 L170.56,190.92 L171.87,190.02 L173.17,189.12 L174.48,188.23 L175.78,187.34 L177.10,186.45 L178.41,185.56 L179.72,184.68 L181.04,183.80 L182.36,182.93 L183.68,182.05 L185.00,181.18 L186.32,180.32 L187.65,179.45 L188.98,178.59 L190.31,177.74 L191.64,176.88 L192.98,176.03 L194.32,175.19 L195.65,174.34 L197.00,173.50 L198.34,172.66 L199.68,171.83 L201.03,171.00 L202.38,170.17 L203.73,169.35 L205.09,168.53 L206.44,167.71 L207.80,166.90 L209.16,166.09 L210.52,165.28 L211.89,164.48 L213.26,163.68 L214.63,162.89 L216.00,162.10 L217.37,161.31 L218.75,160.52 L220.12,159.74 L221.50,158.97 L222.89,158.19 L224.27,157.42 L225.66,156.66 L227.05,155.89 L228.44,155.14 L229.83,154.38 L231.23,153.63 L232.63,152.88 L234.03,152.14 L235.43,151.40 L236.83,150.66 L238.24,149.93 L239.65,149.21 L241.06,148.48 L242.48,147.76 L243.89,147.05 L245.31,146.33 L246.74,145.63 L248.16,144.92 L249.59,144.22 L251.01,143.53 L252.44,142.84 L253.88,142.15 L255.31,141.47 L256.75,140.79 L258.19,140.11 L259.63,139.44 L261.08,138.78 L262.52,138.12 L263.97,137.47 L265.42,136.82 L266.88,136.17 L268.33,135.53 L269.79,134.90 L271.25,134.27 L272.71,133.65 L274.17,133.03 L275.64,132.42 L277.11,131.82 L278.58,131.22 L280.05,130.62 L281.52,130.04 L282.99,129.46 L284.47,128.88 L285.95,128.32 L287.43,127.75 L288.91,127.20 L290.40,126.65 L291.88,126.11 L293.37,125.58 L294.86,125.05 L296.35,124.53 L297.84,124.02 L299.34,123.52 L300.83,123.02 L302.33,122.54 L303.83,122.08 L305.34,121.66 L306.85,121.29 L308.36,120.99 L309.88,120.77Z" fill="none" stroke="#ee4646" stroke-width="1.05"/>
<path d="M311.67,120.51 L313.00,120.67 L314.30,120.91 L315.57,121.24 L316.80,121.65 L318.01,122.14 L319.19,122.69 L320.35,123.31 L321.48,123.99 L322.60,124.71 L323.70,125.48 L324.79,126.29 L325.87,127.14 L326.93,128.01 L327.99,128.89 L329.04,129.80 L330.09,130.71 L331.14,131.63 L332.19,132.54 L333.25,133.45 L334.30,134.34 L335.36,135.24 L336.42,136.13 L337.49,137.01 L338.56,137.89 L339.63,138.76 L340.70,139.62 L341.77,140.49 L342.85,141.35 L343.92,142.20 L345.00,143.05 L346.08,143.90 L347.16,144.74 L348.25,145.58 L349.33,146.42 L350.41,147.25 L351.50,148.08 L352.59,148.91 L353.67,149.74 L354.76,150.56 L355.85,151.39 L356.93,152.21 L358.02,153.03 L359.11,153.85 L360.20,154.67 L361.29,155.49 L362.37,156.31 L363.46,157.13 L364.55,157.95 L365.63,158.77 L366.72,159.59 L367.80,160.41 L368.88,161.24 L369.96,162.06 L371.04,162.89 L372.12,163.72 L373.20,164.55 L374.27,165.38 L375.34,166.22 L376.41,167.06 L377.48,167.90 L378.55,168.74 L379.61,169.59 L380.68,170.44 L381.74,171.29 L382.80,172.14 L383.86,173.00 L384.91,173.86 L385.97,174.72 L387.02,175.59 L388.07,176.45 L389.12,177.32 L390.16,178.20 L391.21,179.07 L392.25,179.95 L393.30,180.83 L394.34,181.71 L395.38,182.59 L396.41,183.47 L397.45,184.36 L398.48,185.25 L399.52,186.14 L400.55,187.03 L401.58,187.93 L402.61,188.83 L403.64,189.73 L404.66,190.63 L405.69,191.53 L406.71,192.43 L407.73,193.34 L408.75,194.25 L409.77,195.16 L410.79,196.07 L411.81,196.98 L412.83,197.89 L413.84,198.81 L414.85,199.73 L415.87,200.64 L416.88,201.56 L417.89,202.48 L418.90,203.41 L419.91,204.33 L420.92,205.25 L421.92,206.18 L422.93,207.11 L423.94,208.04 L424.94,208.96 L425.94,209.89 L426.95,210.83 L427.95,211.76 L428.95,212.69 L429.95,213.63 L430.95,214.56 L431.95,215.50 L432.95,216.43 L433.94,217.37 L434.94,218.31 L435.94,219.25 L436.93,220.18 L437.93,221.12 L438.92,222.06 L439.92,223.01 L440.91,223.95 L441.90,224.89 L442.90,225.83 L443.89,226.77 L444.88,227.72 L445.87,228.66 L446.86,229.60 L447.85,230.54 L448.84,231.49 L449.83,232.43 L450.82,233.38 L451.81,234.32 L452.80,235.26 L453.79,236.21 L454.78,237.15 L455.77,238.10 L456.76,239.04 L457.75,239.98 L458.74,240.93 L459.72,241.87 L460.71,242.82 L461.70,243.76 L462.68,244.71 L463.67,245.65 L464.65,246.60 L465.64,247.55 L466.62,248.50 L467.60,249.45 L468.58,250.40 L469.56,251.35 L470.53,252.30 L471.51,253.26 L472.48,254.21 L473.45,255.17 L474.42,256.13 L475.39,257.09 L476.36,258.05 L477.32,259.01 L478.28,259.98 L479.24,260.95 L480.20,261.92 L481.15,262.89 L482.11,263.86 L483.06,264.84 L484.00,265.82 L484.95,266.80 L485.89,267.78 L486.83,268.77 L487.76,269.76 L488.70,270.75 L489.63,271.75 L490.55,272.75 L491.48,273.75 L492.39,274.75 L493.31,275.76 L494.22,276.77 L495.13,277.79 L496.03,278.81 L496.94,279.83 L497.83,280.85 L498.72,281.88 L499.61,282.92 L500.50,283.96 L501.38,285.00 L502.25,286.04 L503.12,287.09 L503.99,288.15 L504.85,289.21 L505.71,290.27 L506.56,291.34 L507.41,292.41 L508.25,293.49 L509.09,294.57 L509.92,295.66 L510.74,296.75 L511.57,297.84 L512.38,298.94 L513.19,300.05 L514.00,301.15 L514.80,302.27 L515.60,303.38 L516.39,304.50 L517.17,305.62 L517.95,306.75 L518.73,307.88 L519.50,309.02 L520.26,310.16 L521.02,311.30 L521.77,312.45 L522.51,313.60 L523.25,314.75 L523.99,315.91 L524.72,317.07 L525.44,318.23 L526.16,319.40 L526.87,320.57 L527.57,321.75 L528.27,322.92 L528.96,324.10 L529.65,325.29 L530.33,326.48 L531.01,327.67 L531.68,328.86 L532.34,330.05 L532.99,331.25 L533.64,332.46 L534.29,333.66 L534.92,334.87 L535.55,336.08 L536.18,337.29 L536.79,338.51 L537.40,339.72 L538.01,340.94 L538.61,342.17 L539.20,343.39 L539.78,344.62 L540.36,345.85 L540.93,347.08 L541.49,348.32 L542.05,349.56 L542.60,350.79 L543.14,352.04 L543.67,353.28 L544.20,354.53 L544.72,355.77 L545.24,357.02 L545.74,358.28 L546.24,359.53 L546.73,360.79 L547.21,362.06 L547.68,363.33 L548.14,364.60 L548.60,365.88 L549.04,367.16 L549.47,368.45 L549.89,369.75 L550.31,371.05 L550.71,372.37 L551.10,373.69 L551.47,375.01 L551.84,376.35 L552.19,377.69 L552.54,379.05 L552.87,380.41 L553.18,381.78 L553.48,383.16 L553.75,384.55 L554.00,385.94 L554.22,387.33 L554.41,388.72 L554.57,390.11 L554.68,391.49 L554.75,392.87 L554.77,394.24 L554.74,395.61 L554.66,396.96 L554.52,398.30 L554.32,399.62 L554.05,400.93 L553.71,402.21 L553.31,403.48 L552.83,404.73 L552.29,405.95 L551.69,407.15 L551.03,408.32 L550.31,409.46 L549.54,410.57 L548.71,411.65 L547.84,412.70 L546.92,413.71 L545.95,414.68 L544.95,415.62 L543.90,416.52 L542.82,417.37 L541.71,418.19 L540.57,418.95 L539.40,419.68 L538.20,420.35 L536.98,420.97 L535.74,421.55 L534.48,422.07 L533.20,422.55 L531.91,422.98 L530.60,423.38 L529.28,423.73 L527.95,424.04 L526.61,424.32 L525.25,424.57 L523.89,424.78 L522.53,424.97 L521.16,425.13 L519.78,425.27 L518.41,425.38 L517.03,425.48 L515.65,425.56 L514.27,425.62 L512.90,425.67 L511.53,425.70 L510.15,425.72 L508.78,425.73 L507.41,425.73 L506.04,425.72 L504.68,425.70 L503.31,425.67 L501.94,425.64 L500.58,425.60 L499.21,425.55 L497.85,425.50 L496.49,425.45 L495.12,425.39 L493.76,425.34 L492.40,425.28 L491.04,425.22 L489.68,425.17 L488.31,425.11 L486.95,425.06 L485.59,425.02 L484.23,424.98 L482.87,424.94 L481.51,424.91 L480.15,424.89 L478.79,424.87 L477.43,424.86 L476.06,424.85 L474.70,424.85 L473.34,424.85 L471.98,424.86 L470.62,424.87 L469.26,424.88 L467.89,424.89 L466.53,424.91 L465.17,424.93 L463.81,424.95 L462.45,424.98 L461.08,425.00 L459.72,425.03 L458.36,425.06 L456.99,425.09 L455.63,425.12 L454.27,425.14 L452.90,425.17 L451.54,425.20 L450.17,425.23 L448.81,425.25 L447.44,425.28 L446.08,425.30 L444.71,425.32 L443.35,425.34 L441.98,425.35 L440.62,425.36 L439.25,425.37 L437.88,425.37 L436.52,425.38 L435.15,425.37 L433.78,425.36 L432.41,425.35 L431.05,425.33 L429.68,425.31 L428.31,425.28 L426.94,425.24 L425.57,425.20 L424.20,425.15 L422.83,425.10 L421.46,425.04 L420.09,424.97 L418.72,424.89 L417.35,424.81 L415.98,424.71 L414.61,424.61 L413.24,424.51 L411.87,424.39 L410.51,424.27 L409.14,424.14 L407.78,424.00 L406.41,423.85 L405.05,423.69 L403.69,423.52 L402.33,423.35 L400.97,423.16 L399.61,422.97 L398.26,422.76 L396.91,422.55 L395.56,422.33 L394.21,422.10 L392.87,421.85 L391.53,421.60 L390.19,421.34 L388.85,421.06 L387.52,420.78 L386.19,420.48 L384.86,420.18 L383.53,419.86 L382.21,419.53 L380.90,419.20 L379.58,418.85 L378.28,418.48 L376.97,418.11 L375.67,417.72 L374.37,417.33 L373.08,416.92 L371.79,416.50 L370.51,416.06 L369.23,415.61 L367.96,415.16 L366.69,414.68 L365.43,414.20 L364.17,413.70 L362.91,413.19 L361.66,412.67 L360.42,412.14 L359.17,411.60 L357.93,411.05 L356.69,410.49 L355.46,409.92 L354.23,409.35 L352.99,408.77 L351.76,408.19 L350.53,407.60 L349.30,407.01 L348.07,406.41 L346.83,405.81 L345.60,405.21 L344.37,404.60 L343.13,404.00 L341.89,403.40 L340.65,402.80 L339.40,402.19 L338.16,401.60 L336.90,401.00 L335.65,400.41 L334.39,399.82 L333.13,399.23 L331.87,398.64 L330.61,398.04 L329.35,397.44 L328.11,396.83 L326.87,396.21 L325.64,395.58 L324.42,394.94 L323.22,394.28 L322.03,393.60 L320.86,392.91 L319.70,392.19 L318.57,391.45 L317.46,390.68 L316.37,389.89 L315.31,389.07 L314.26,388.24 L313.23,387.38 L312.22,386.50 L311.24,385.60 L310.26,384.68 L309.31,383.74 L308.38,382.78 L307.46,381.80 L306.56,380.80 L305.67,379.79 L304.81,378.76 L303.95,377.72 L303.11,376.66 L302.29,375.58 L301.48,374.49 L300.68,373.39 L299.90,372.28 L299.13,371.15 L298.37,370.01 L297.62,368.87 L296.88,367.71 L296.16,366.54 L295.44,365.36 L294.73,364.18 L294.04,362.99 L293.35,361.79 L292.67,360.58 L292.00,359.37 L291.34,358.16 L290.68,356.94 L290.03,355.71 L289.39,354.48 L288.75,353.25 L288.11,352.02 L287.49,350.79 L286.86,349.55 L286.24,348.32 L285.63,347.09 L285.01,345.85 L284.41,344.62 L283.80,343.38 L283.20,342.15 L282.61,340.91 L282.02,339.67 L281.44,338.43 L280.86,337.19 L280.28,335.95 L279.72,334.71 L279.16,333.47 L278.60,332.23 L278.05,330.98 L277.51,329.73 L276.97,328.48 L276.44,327.23 L275.92,325.98 L275.40,324.73 L274.89,323.47 L274.39,322.21 L273.89,320.95 L273.41,319.68 L272.93,318.41 L272.46,317.14 L271.99,315.87 L271.54,314.59 L271.09,313.31 L270.65,312.03 L270.23,310.75 L269.81,309.46 L269.39,308.16 L268.99,306.87 L268.59,305.57 L268.21,304.27 L267.82,302.97 L267.45,301.66 L267.09,300.35 L266.73,299.04 L266.38,297.72 L266.03,296.41 L265.70,295.09 L265.37,293.76 L265.04,292.44 L264.73,291.11 L264.42,289.79 L264.11,288.45 L263.81,287.12 L263.52,285.79 L263.23,284.45 L262.95,283.11 L262.68,281.77 L262.41,280.43 L262.14,279.09 L261.88,277.74 L261.63,276.40 L261.38,275.05 L261.13,273.70 L260.89,272.35 L260.65,271.00 L260.42,269.65 L260.19,268.29 L259.97,266.94 L259.75,265.58 L259.53,264.23 L259.32,262.87 L259.11,261.51 L258.90,260.15 L258.70,258.79 L258.50,257.43 L258.30,256.07 L258.10,254.71 L257.91,253.35 L257.72,251.99 L257.53,250.63 L257.35,249.27 L257.17,247.91 L256.98,246.55 L256.80,245.19 L256.63,243.83 L256.45,242.47 L256.27,241.11 L256.10,239.75 L255.92,238.39 L255.75,237.03 L255.58,235.67 L255.42,234.31 L255.25,232.95 L255.09,231.59 L254.94,230.24 L254.79,228.88 L254.64,227.52 L254.51,226.16 L254.37,224.81 L254.25,223.45 L254.13,222.09 L254.02,220.74 L253.92,219.38 L253.83,218.02 L253.75,216.66 L253.68,215.31 L253.62,213.95 L253.58,212.59 L253.54,211.23 L253.52,209.87 L253.51,208.51 L253.51,207.15 L253.53,205.79 L253.56,204.43 L253.61,203.07 L253.68,201.71 L253.76,200.34 L253.86,198.98 L253.97,197.62 L254.10,196.26 L254.25,194.90 L254.42,193.54 L254.61,192.18 L254.81,190.82 L255.03,189.47 L255.27,188.13 L255.53,186.78 L255.81,185.44 L256.11,184.11 L256.42,182.78 L256.76,181.45 L257.12,180.13 L257.50,178.82 L257.89,177.52 L258.31,176.22 L258.75,174.93 L259.21,173.65 L259.70,172.38 L260.20,171.11 L260.73,169.86 L261.27,168.61 L261.84,167.38 L262.44,166.16 L263.05,164.95 L263.69,163.75 L264.36,162.56 L265.04,161.39 L265.75,160.23 L266.48,159.08 L267.24,157.94 L268.01,156.82 L268.80,155.70 L269.62,154.60 L270.44,153.51 L271.29,152.43 L272.15,151.36 L273.02,150.30 L273.91,149.25 L274.80,148.21 L275.71,147.18 L276.63,146.15 L277.55,145.13 L278.49,144.13 L279.42,143.12 L280.37,142.13 L281.32,141.14 L282.27,140.16 L283.22,139.17 L284.18,138.20 L285.14,137.22 L286.09,136.24 L287.05,135.27 L288.01,134.29 L288.96,133.31 L289.91,132.33 L290.86,131.35 L291.80,130.36 L292.72,129.37 L292.81,128.52 L291.31,128.07 L289.42,128.05 L288.51,128.04 L289.45,127.54 L290.96,126.86 L292.35,126.20 L293.64,125.55 L294.85,124.93 L296.02,124.33 L297.16,123.76 L298.30,123.22 L299.48,122.71 L300.71,122.24 L302.00,121.80 L303.33,121.42 L304.70,121.09 L306.10,120.82 L307.51,120.62 L308.91,120.50 L310.30,120.46Z" fill="none" stroke="#17609c" stroke-width="1.05"/>
<g font-family="Montserrat, 'Liberation Sans', sans-serif" font-size="18">
<text x="15.8" y="617.6" fill="#262626" textLength="63.02" lengthAdjust="spacingAndGlyphs">cd/klm</text>
<text x="181.2" y="618.8" fill="#ee4646" textLength="85.55" lengthAdjust="spacingAndGlyphs">C0 <tspan font-weight="700">–</tspan> C180</text>
<text x="339.2" y="618.7" fill="#1f64a8" textLength="98.86" lengthAdjust="spacingAndGlyphs">C90 <tspan font-weight="700">–</tspan> C270</text>
<text x="539.8" y="618.6" fill="#262626" font-family="Montserrat, Manrope, 'Liberation Sans', sans-serif">η</text>
<text x="550.9" y="618.5" fill="#262626" textLength="55.61" lengthAdjust="spacingAndGlyphs">=100%</text>
</g>
</svg>
</body></html>
